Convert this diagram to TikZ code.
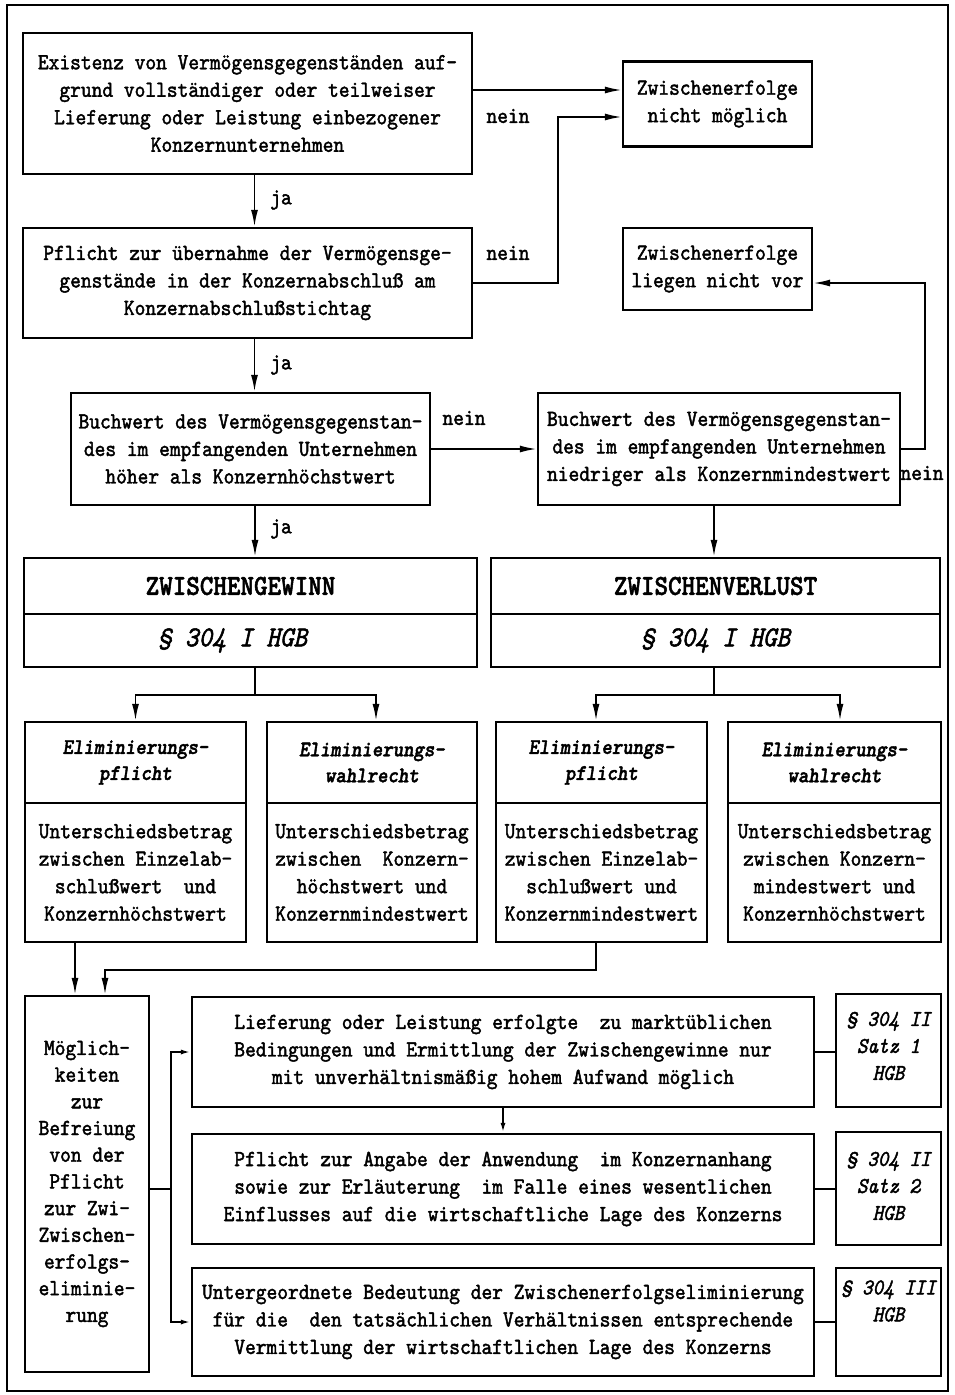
\documentclass[tikz,border=0pt]{standalone}
\usepackage{fontspec}
\newfontfamily\tw{lmmono10-regular.otf}[ItalicFont=lmmono10-italic.otf, BoldFont=lmmonolt10-bold.otf, BoldItalicFont=lmmonolt10-boldoblique.otf, FakeBold=1.8, FakeStretch=0.89]
\usetikzlibrary{arrows.meta}
\begin{document}
\begin{tikzpicture}[x=1pt,y=-1pt,
  font=\tw\fontsize{23pt}{27.5pt}\selectfont,
  box/.style={draw,line width=2.3pt,inner sep=0pt,align=center},
  conn/.style={line width=1.9pt},
  arr/.style={conn,-{Latex[length=17pt,width=7pt]}},
  sarr/.style={conn,-{Latex[length=10pt,width=5pt]}},
  lbl/.style={inner sep=0pt},
  big/.style={font=\tw\fontsize{29pt}{32pt}\selectfont},
  elim/.style={font=\tw\fontsize{22.3pt}{26pt}\selectfont\bfseries\itshape},
  par/.style={font=\tw\fontsize{22.5pt}{27pt}\selectfont\itshape, align=center, inner sep=0pt},
  ]
\useasboundingbox (0,0) rectangle (954,1395);
\node[draw,line width=2.6pt,minimum width=941pt,minimum height=1386pt,inner sep=0pt] (frame) at (477.5,698) {};

% top part
\node[box,minimum width=449pt,minimum height=141pt] (A) at (247.5,103.5)
  {Existenz von Vermögensgegenständen auf-\\grund vollständiger oder teilweiser\\Lieferung oder Leistung einbezogener\\Konzernunternehmen};
\node[box,minimum width=189pt,minimum height=85pt] (Z1) at (717.5,104)
  {Zwischenerfolge\\nicht möglich};
\node[box,minimum width=449pt,minimum height=110pt] (B) at (247.5,283)
  {Pflicht zur übernahme der Vermögensge-\\genstände in der Konzernabschluß am\\Konzernabschlußstichtag};
\node[box,minimum width=189pt,minimum height=82pt] (Z2) at (717.5,269)
  {Zwischenerfolge\\liegen nicht vor};
\node[box,minimum width=359pt,minimum height=112pt] (C) at (250.5,449)
  {Buchwert des Vermögensgegenstan-\\des im empfangenden Unternehmen\\höher als Konzernhöchstwert};
\node[box,minimum width=362pt,minimum height=112pt] (D) at (719,449)
  {Buchwert des Vermögensgegenstan-\\des im empfangenden Unternehmen\\niedriger als Konzernmindestwert};

% Zwischengewinn / -verlust
\node[box,big,minimum width=453pt,minimum height=56pt] (ZGa) at (250.5,586) {\bfseries ZWISCHENGEWINN\hspace*{20pt}};
\node[box,big,minimum width=453pt,minimum height=53pt] (ZGb) at (250.5,640.5) {\itshape § 304 I HGB\hspace*{36pt}};
\node[box,big,minimum width=449pt,minimum height=56pt] (ZVa) at (715.5,586) {\bfseries ZWISCHENVERLUST};
\node[box,big,minimum width=449pt,minimum height=53pt] (ZVb) at (715.5,640.5) {\itshape § 304 I HGB};

% Eliminierung boxes
\node[box,elim,minimum width=221pt,minimum height=81pt] (E1a) at (135.5,762.5) {Eliminierungs-\\pflicht};
\node[box,minimum width=221pt,minimum height=139pt] (E1b) at (135.5,872.5)
  {Unterschiedsbetrag\\zwischen Einzelab-\\schlußwert~ und\\Konzernhöchstwert};
\node[box,elim,minimum width=210pt,minimum height=81pt] (E2a) at (372,762.5) {Eliminierungs-\\wahlrecht};
\node[box,minimum width=210pt,minimum height=139pt] (E2b) at (372,872.5)
  {Unterschiedsbetrag\\zwischen~ Konzern-\\höchstwert und\\Konzernmindestwert};
\node[box,elim,minimum width=211pt,minimum height=81pt] (E3a) at (601.5,762.5) {Eliminierungs-\\pflicht};
\node[box,minimum width=211pt,minimum height=139pt] (E3b) at (601.5,872.5)
  {Unterschiedsbetrag\\zwischen Einzelab-\\schlußwert und\\Konzernmindestwert};
\node[box,elim,minimum width=213pt,minimum height=81pt] (E4a) at (834.5,762.5) {Eliminierungs-\\wahlrecht};
\node[box,minimum width=213pt,minimum height=139pt] (E4b) at (834.5,872.5)
  {Unterschiedsbetrag\\zwischen Konzern-\\mindestwert und\\Konzernhöchstwert};

% bottom part
\node[box,font=\tw\fontsize{23pt}{26.7pt}\selectfont,minimum width=124pt,minimum height=376pt] (M) at (87,1184)
  {Möglich-\\keiten\\zur\\Befreiung\\von der\\Pflicht\\zur Zwi-\\Zwischen-\\erfolgs-\\eliminie-\\rung};
\node[box,minimum width=622pt,minimum height=110pt] (L1) at (503,1052)
  {Lieferung oder Leistung erfolgte~ zu marktüblichen\\Bedingungen und Ermittlung der Zwischengewinne nur\\mit unverhältnismäßig hohem Aufwand möglich};
\node[box,minimum width=622pt,minimum height=110pt] (L2) at (503,1189)
  {Pflicht zur Angabe der Anwendung~ im Konzernanhang\\sowie zur Erläuterung~ im Falle eines wesentlichen\\Einflusses auf die wirtschaftliche Lage des Konzerns};
\node[box,minimum width=622pt,minimum height=108pt] (L3) at (503,1322)
  {Untergeordnete Bedeutung der Zwischenerfolgseliminierung\\für die~ den tatsächlichen Verhältnissen entsprechende\\Vermittlung der wirtschaftlichen Lage des Konzerns};
\node[box,minimum width=105pt,minimum height=113pt] (S1) at (888.5,1050.5) {};
\node[box,minimum width=105pt,minimum height=113pt] (S2) at (888.5,1188.5) {};
\node[box,minimum width=105pt,minimum height=108pt] (S3) at (888.5,1322) {};
\node[par] (S1t) at (888.5,1046) {§ 304 II\\Satz 1\\HGB};
\node[par] (S2t) at (888.5,1186) {§ 304 II\\Satz 2\\HGB};
\node[par] (S3t) at (888.5,1301) {§ 304 III\\HGB};

% connectors top
\draw[arr] ([xshift=7pt]A.south) -- ([xshift=7pt]A.south |- B.north);
\node[lbl] (ja1) at (281,200) {ja};
\draw[arr] ([yshift=13.5pt]A.east) -- ([yshift=13.5pt]A.east -| Z1.west);
\coordinate (k1) at (558,200);
\coordinate (z1in) at ([yshift=-13pt]Z1.west);
\draw[arr] (B.east) -- (B.east -| k1) |- (z1in);
\node[lbl] (n1) at (508,116) {nein};
\node[lbl] (n2) at (508,253) {nein};
\draw[arr] ([xshift=7pt]B.south) -- ([xshift=7pt]B.south |- C.north);
\node[lbl] (ja2) at (281,365) {ja};
\draw[arr] (C.east) -- (C.east -| D.west);
\node[lbl] (n3) at (464,418) {nein};
\coordinate (k2) at (925,350);
\coordinate (z2in) at ([yshift=-14pt]Z2.east);
\draw[arr] (D.east) -- (D.east -| k2) |- (z2in);
\node[lbl] (n4) at (922,473) {nein};
\draw[arr] ([xshift=4.5pt]C.south) -- ([xshift=4.5pt]C.south |- ZGa.north);
\node[lbl] (ja3) at (281,529) {ja};
\draw[arr] ([xshift=-5pt]D.south) -- ([xshift=-5pt]D.south |- ZVa.north);

% splits
\coordinate (s1) at (255,695);
\draw[conn] (ZGb.south -| s1) -- (s1);
\draw[arr] (s1) -| (E1a.north);
\draw[arr] (s1) -| ([xshift=4pt]E2a.north);
\coordinate (s2) at (714,695);
\draw[conn] (ZVb.south -| s2) -- (s2);
\draw[arr] (s2) -| ([xshift=-5.5pt]E3a.north);
\draw[arr] (s2) -| ([xshift=5.5pt]E4a.north);

% to M
\draw[arr] ([xshift=-60.5pt]E1b.south) -- ([xshift=-60.5pt]E1b.south |- M.north);
\coordinate (k3) at (105,970);
\draw[arr] ([xshift=-5.5pt]E3b.south) |- (k3) -- (k3 |- M.north);

% M to L
\coordinate (k4) at (171,1189);
\draw[conn] (k4 -| M.east) -- (k4);
\draw[sarr] (k4) |- (L1.west);
\draw[sarr] (k4) |- (L3.west);
\draw[sarr] (L1.south) -- (L2.north);
\draw[conn] (L1.east) -- (L1.east -| S1.west);
\draw[conn] (L2.east) -- (L2.east -| S2.west);
\draw[conn] (L3.east) -- (L3.east -| S3.west);
\end{tikzpicture}
\end{document}
